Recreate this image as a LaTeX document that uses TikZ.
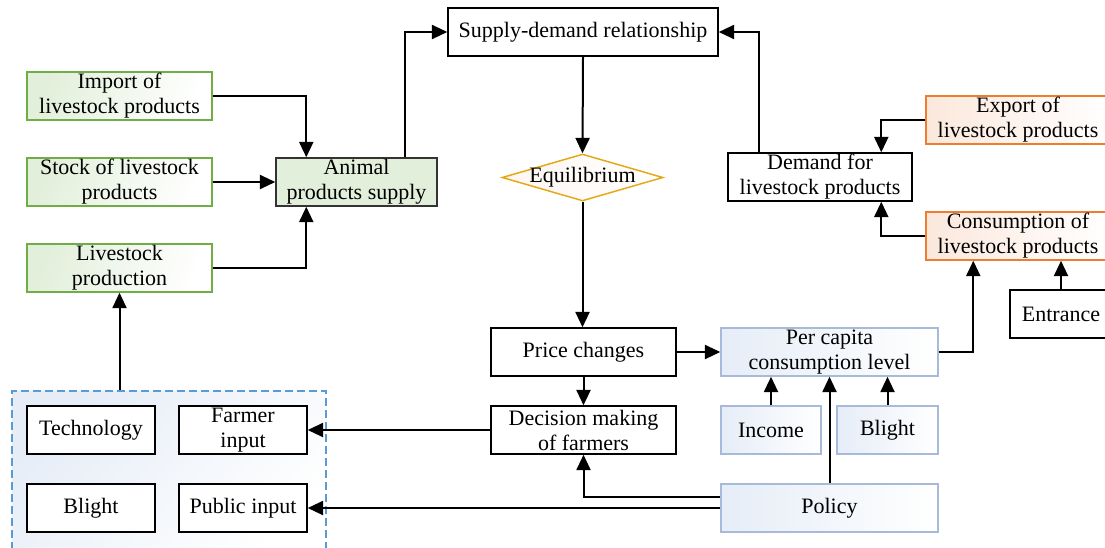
\documentclass[tikz,border=0pt]{standalone}
\usepackage{fontspec}
\setmainfont{Liberation Serif}
\usetikzlibrary{arrows.meta,calc,shapes.geometric}
\definecolor{gborder}{RGB}{112,173,71}
\definecolor{gfill}{RGB}{226,239,218}
\definecolor{oborder}{RGB}{237,125,49}
\definecolor{ofill}{RGB}{251,232,220}
\definecolor{bborder}{RGB}{168,186,218}
\definecolor{bfill}{RGB}{230,237,247}
\definecolor{dborder}{RGB}{91,155,213}
\definecolor{yborder}{RGB}{228,168,20}
\tikzset{
  base/.style={align=center, inner sep=0pt, minimum height=36pt, line width=1.1pt},
  blackbox/.style={base, draw=black, fill=white},
  greenbox/.style={base, draw=gborder, left color=gfill, right color=white, shading angle=70},
  supbox/.style={base, draw=black!80, fill=gfill},
  orangebox/.style={base, draw=oborder, left color=ofill, right color=white},
  bluebox/.style={base, draw=bborder, left color=bfill, right color=white},
  arr/.style={line width=1.5pt, -{Triangle[length=11.5pt,width=10.5pt]}},
}
\begin{document}
\begin{tikzpicture}[x=0.75pt,y=-0.75pt,font=\fontsize{16.5}{18.75}\selectfont]
\useasboundingbox (0,0) rectangle (1105,547);
% dashed background group
\node[draw=dborder, dash pattern=on 6pt off 3pt, line width=1.1pt, left color=bfill, right color=white, shading angle=45,
      minimum width=235.5pt, minimum height=126.75pt, inner sep=0pt] (dbox) at (169,475.5) {};

\node[blackbox, minimum width=202.5pt] (sd) at (583,32) {Supply-demand relationship};
\node[greenbox, minimum width=138.75pt] (import) at (119.5,96) {Import of\\livestock products};
\node[greenbox, minimum width=138.75pt] (stock) at (119.5,182) {Stock of livestock\\products};
\node[greenbox, minimum width=138.75pt] (lprod) at (119.5,268) {Livestock\\production};
\node[supbox, minimum width=120.75pt] (animal) at (356.5,182) {Animal\\products supply};

\node[diamond, draw=yborder, line width=1.1pt, left color=ofill!40, right color=white,
      minimum width=120.75pt, minimum height=35.25pt, inner sep=0pt] (eq) at (582.5,177.5) {};
\node (eqtext) at (eq.center) {Equilibrium};

\node[blackbox, minimum width=138pt] (demand) at (820,177) {Demand for\\livestock products};
\node[orangebox, minimum width=138pt] (export) at (1018,120) {Export of\\livestock products};
\node[orangebox, minimum width=138pt] (cons) at (1018,236) {Consumption of\\livestock products};
\node[blackbox, minimum width=76.5pt] (entr) at (1061,314) {Entrance};

\node[bluebox, minimum width=162.75pt] (percap) at (829.5,352) {Per capita\\consumption level};
\node[blackbox, minimum width=138.75pt] (price) at (583.5,352) {Price changes};
\node[blackbox, minimum width=138.75pt] (decision) at (583.5,430) {Decision making\\of farmers};
\node[bluebox, minimum width=75pt] (income) at (771,430) {Income};
\node[bluebox, minimum width=75.75pt] (blightr) at (887.5,430) {Blight};
\node[bluebox, minimum width=162.75pt] (policy) at (829.5,508) {Policy};

\node[blackbox, minimum width=96pt] (tech) at (91,430) {Technology};
\node[blackbox, minimum width=96pt] (farmer) at (243,430) {Farmer\\input};
\node[blackbox, minimum width=96pt] (blightl) at (91,508) {Blight};
\node[blackbox, minimum width=96pt] (pubin) at (243,508) {Public input};

% connectors
\draw[arr] (import.east) -| ($(animal.north west)+(31,0)$);
\draw[arr] (stock.east) -- (animal.west);
\draw[arr] (lprod.east) -| ($(animal.south west)+(31,0)$);
\draw[arr] ($(animal.north west)+(130,0)$) |- (sd.west);
\draw[arr] (sd.south) -- (eq.north);
\draw[arr] (eq.south) -- (eq.south |- price.north);
\draw[arr] ($(demand.north west)+(32,0)$) |- (sd.east);
\draw[arr] (export.west) -| ($(demand.north west)+(154,0)$);
\draw[arr] (cons.west) -| ($(demand.south west)+(154,0)$);
\draw[arr] (percap.east) -| ($(cons.south west)+(48,0)$);
\draw[arr] (entr.north) -- (entr.north |- cons.south);
\draw[arr] (price.east) -- (percap.west);
\draw[arr] (price.south) -- (decision.north);
\draw[arr] (decision.west) -- (farmer.east);
\draw[arr] ($(policy.west)+(0,-11)$) -| (decision.south);
\draw[arr] (policy.west) -- (pubin.east);
\draw[arr] (income.north) -- (income.north |- percap.south);
\draw[arr] (blightr.north) -- (blightr.north |- percap.south);
\draw[arr] (policy.north) -- (percap.south);
\draw[arr] (dbox.north -| lprod.south) -- (lprod.south);
\end{tikzpicture}
\end{document}
